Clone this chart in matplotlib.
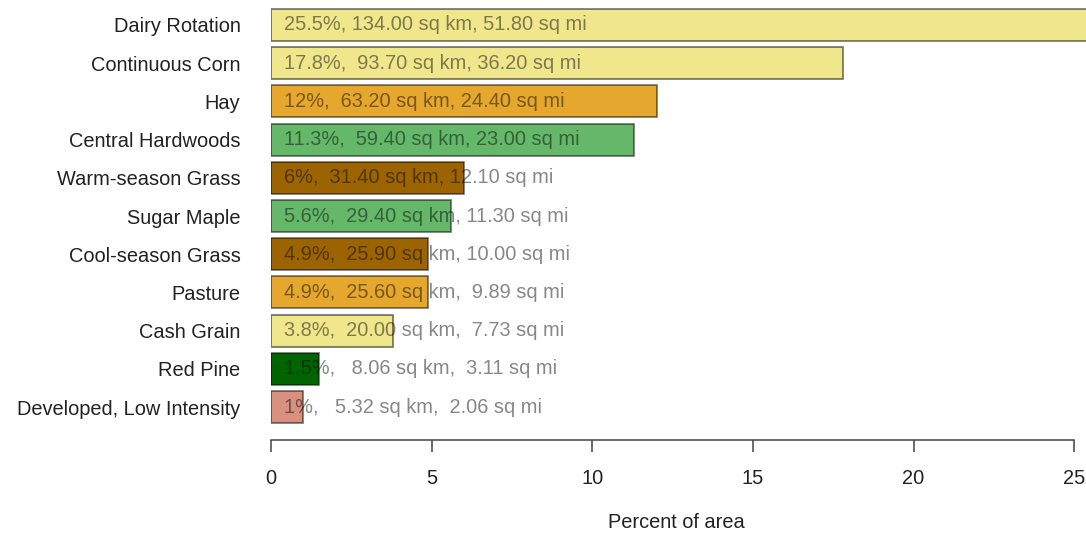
import matplotlib
matplotlib.use("Agg")
import matplotlib.pyplot as plt

plt.rcParams['font.family'] = ['Liberation Sans', 'DejaVu Sans']

# land cover classes, top to bottom
classes = ["Dairy Rotation", "Continuous Corn", "Hay", "Central Hardwoods",
           "Warm-season Grass", "Sugar Maple", "Cool-season Grass", "Pasture",
           "Cash Grain", "Red Pine", "Developed, Low Intensity"]
pct = [25.5, 17.8, 12, 11.3, 6, 5.6, 4.9, 4.9, 3.8, 1.5, 1]
sq_km = [134.00, 93.70, 63.20, 59.40, 31.40, 29.40, 25.90, 25.60, 20.00, 8.06, 5.32]
sq_mi = [51.80, 36.20, 24.40, 23.00, 12.10, 11.30, 10.00, 9.89, 7.73, 3.11, 2.06]
colors = ["#F0E68C", "#F0E68C", "#E5A72D", "#65B86A", "#9B6400", "#65B86A",
          "#9B6400", "#E5A72D", "#F0E68C", "#006400", "#D9907F"]
xticks = [0, 5, 10, 15, 20, 25]

fs = 14.4
fig = plt.figure(figsize=(10.86, 5.34), dpi=100)
W, H = 1086, 534
x0 = 271        # pixel of zero
px_per = 32.13  # pixels per percent unit
ax_bottom = 440
ax = fig.add_axes([x0 / W, (H - ax_bottom) / H, 1 - x0 / W, ax_bottom / H])

ypos = list(range(len(classes)))
ax.barh(ypos, pct, height=0.833, color=colors,
        edgecolor=(0, 0, 0, 0.55), linewidth=1.2, zorder=2)

for y, p, k, m in zip(ypos, pct, sq_km, sq_mi):
    lab = "%g%%, %6.2f sq km, %5.2f sq mi" % (p, k, m)
    ax.annotate(lab, (0, y), xytext=(9, 0), textcoords="offset points",
                va="center", ha="left", fontsize=fs, color=(0, 0, 0, 0.47),
                zorder=3, annotation_clip=False)

ax.set_xlim(0, (W - x0) / px_per)
top = -25 / 38.2
ax.set_ylim((ax_bottom - 25) / 38.2, top)

ax.set_yticks(ypos)
ax.set_yticklabels(classes, fontsize=fs, color="#222222")
ax.tick_params(axis="y", length=0, pad=22)

ax.set_xticks(xticks)
ax.set_xticklabels([str(t) for t in xticks], fontsize=fs, color="#222222")
ax.tick_params(axis="x", length=8.6, width=1.1, color="#444444", pad=12)

for s in ["top", "right", "left"]:
    ax.spines[s].set_visible(False)
ax.spines["bottom"].set_bounds(0, 25)
ax.spines["bottom"].set_color("#444444")
ax.spines["bottom"].set_linewidth(1.1)
ax.patch.set_alpha(0)

fig.text(676 / W, 1 - 523 / H, "Percent of area", ha="center", va="center",
         fontsize=fs, color="#222222")

fig.savefig("out.png", dpi=100)
